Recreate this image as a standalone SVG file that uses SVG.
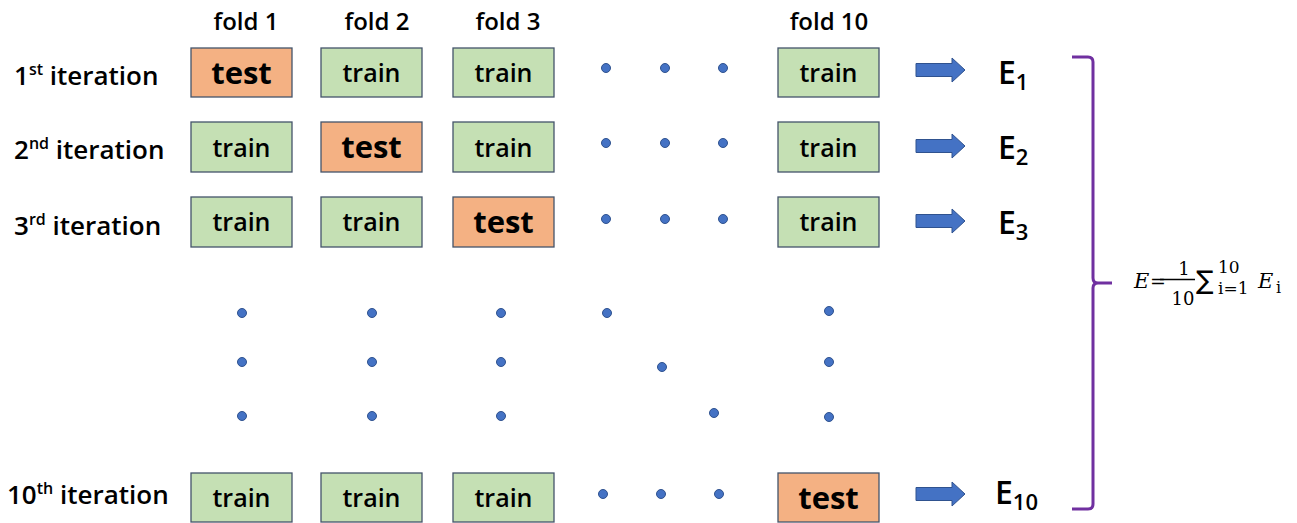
<svg xmlns="http://www.w3.org/2000/svg" width="1297" height="523" viewBox="0 0 1297 523">
<defs>
<style>
.lbl{font-family:"Open Sans","Liberation Sans",sans-serif;font-weight:600;fill:#000}
.fold{font-size:24px;text-anchor:middle}
.iter{font-size:26px}
.sup{font-size:16px}
.box-train rect{fill:#C5E0B4;stroke:#44546A;stroke-width:1.3}
.box-test rect{fill:#F4B183;stroke:#44546A;stroke-width:1.3}
.box-train text{font-family:"Open Sans","Liberation Sans",sans-serif;font-weight:600;font-size:25px;text-anchor:middle;fill:#000}
.box-test text{font-family:"Open Sans","Liberation Sans",sans-serif;font-weight:700;font-size:31px;text-anchor:middle;fill:#000}
.dot{fill:#4472C4;stroke:#2F528F;stroke-width:1}
.arrow{fill:#4472C4;stroke:#2F528F;stroke-width:1}
.e{font-family:"Open Sans","Liberation Sans",sans-serif;font-weight:600;font-size:32px;fill:#000}
.esub{font-size:22px}
.math{font-family:"DejaVu Serif","Liberation Serif",serif;fill:#000}
</style>
<g id="arrowShape"><path class="arrow" d="M0,-6.5 H36 V-12 L49,0 L36,12 V6.5 H0 Z"/></g>
</defs>

<!-- fold headers -->
<g id="headers">
<text class="lbl fold" x="246" y="30">fold 1</text>
<text class="lbl fold" x="377" y="30">fold 2</text>
<text class="lbl fold" x="508" y="30">fold 3</text>
<text class="lbl fold" x="829" y="30">fold 10</text>
</g>

<!-- iteration labels -->
<g id="iterations">
<text class="lbl iter" x="14" y="85">1<tspan class="sup" dy="-10">st</tspan><tspan dy="10"> iteration</tspan></text>
<text class="lbl iter" x="14" y="159">2<tspan class="sup" dy="-10">nd</tspan><tspan dy="10"> iteration</tspan></text>
<text class="lbl iter" x="14" y="235">3<tspan class="sup" dy="-10">rd</tspan><tspan dy="10"> iteration</tspan></text>
<text class="lbl iter" x="7" y="504">10<tspan class="sup" dy="-10">th</tspan><tspan dy="10"> iteration</tspan></text>
</g>

<!-- row 1 -->
<g id="r1c1" class="box-test"><rect x="191" y="48" width="101" height="49"/><text x="241.5" y="84">test</text></g>
<g id="r1c2" class="box-train"><rect x="321" y="48" width="101" height="49"/><text x="371.5" y="82">train</text></g>
<g id="r1c3" class="box-train"><rect x="453" y="48" width="101" height="49"/><text x="503.5" y="82">train</text></g>
<g id="r1c10" class="box-train"><rect x="778" y="48" width="101" height="49"/><text x="828.5" y="82">train</text></g>

<!-- row 2 -->
<g id="r2c1" class="box-train"><rect x="191" y="122" width="101" height="50"/><text x="241.5" y="157">train</text></g>
<g id="r2c2" class="box-test"><rect x="321" y="122" width="101" height="50"/><text x="371.5" y="158">test</text></g>
<g id="r2c3" class="box-train"><rect x="453" y="122" width="101" height="50"/><text x="503.5" y="157">train</text></g>
<g id="r2c10" class="box-train"><rect x="778" y="122" width="101" height="50"/><text x="828.5" y="157">train</text></g>

<!-- row 3 -->
<g id="r3c1" class="box-train"><rect x="191" y="197" width="101" height="50"/><text x="241.5" y="231">train</text></g>
<g id="r3c2" class="box-train"><rect x="321" y="197" width="101" height="50"/><text x="371.5" y="231">train</text></g>
<g id="r3c3" class="box-test"><rect x="453" y="197" width="101" height="50"/><text x="503.5" y="233">test</text></g>
<g id="r3c10" class="box-train"><rect x="778" y="197" width="101" height="50"/><text x="828.5" y="231">train</text></g>

<!-- row 10 -->
<g id="r10c1" class="box-train"><rect x="191" y="473" width="101" height="49"/><text x="241.5" y="507">train</text></g>
<g id="r10c2" class="box-train"><rect x="321" y="473" width="101" height="49"/><text x="371.5" y="507">train</text></g>
<g id="r10c3" class="box-train"><rect x="453" y="473" width="101" height="49"/><text x="503.5" y="507">train</text></g>
<g id="r10c10" class="box-test"><rect x="778" y="473" width="101" height="49"/><text x="828.5" y="509">test</text></g>

<!-- dots -->
<g id="dots">
<circle class="dot" cx="606" cy="68" r="4.5"/><circle class="dot" cx="665" cy="68" r="4.5"/><circle class="dot" cx="723" cy="68" r="4.5"/>
<circle class="dot" cx="606" cy="143" r="4.5"/><circle class="dot" cx="665" cy="143" r="4.5"/><circle class="dot" cx="723" cy="143" r="4.5"/>
<circle class="dot" cx="606" cy="219" r="4.5"/><circle class="dot" cx="665" cy="219" r="4.5"/><circle class="dot" cx="723" cy="219" r="4.5"/>
<circle class="dot" cx="603" cy="494" r="4.5"/><circle class="dot" cx="661" cy="494" r="4.5"/><circle class="dot" cx="719" cy="494" r="4.5"/>
<circle class="dot" cx="242" cy="313" r="4.5"/><circle class="dot" cx="242" cy="362" r="4.5"/><circle class="dot" cx="242" cy="416" r="4.5"/>
<circle class="dot" cx="372" cy="313" r="4.5"/><circle class="dot" cx="372" cy="362" r="4.5"/><circle class="dot" cx="372" cy="416" r="4.5"/>
<circle class="dot" cx="501" cy="313" r="4.5"/><circle class="dot" cx="501" cy="362" r="4.5"/><circle class="dot" cx="501" cy="416" r="4.5"/>
<circle class="dot" cx="607" cy="313" r="4.5"/><circle class="dot" cx="662" cy="367" r="4.5"/><circle class="dot" cx="714" cy="413" r="4.5"/>
<circle class="dot" cx="829" cy="311" r="4.5"/><circle class="dot" cx="829" cy="362" r="4.5"/><circle class="dot" cx="829" cy="417" r="4.5"/>
</g>

<!-- connectors: arrows -->
<g id="connectors">
<use href="#arrowShape" x="916" y="70"/>
<use href="#arrowShape" x="916" y="146"/>
<use href="#arrowShape" x="916" y="221"/>
<use href="#arrowShape" x="916" y="494"/>
</g>

<!-- error labels -->
<g id="errors">
<text class="e" x="998" y="84">E<tspan class="esub" dy="6">1</tspan></text>
<text class="e" x="998" y="159">E<tspan class="esub" dy="6">2</tspan></text>
<text class="e" x="998" y="234">E<tspan class="esub" dy="6">3</tspan></text>
<text class="e" x="995" y="504">E<tspan class="esub" dy="6">10</tspan></text>
</g>

<!-- brace -->
<g id="brace">
<path d="M1072,57 H1088 Q1093,57 1093,62 V278 Q1093,283 1098,283 H1112 M1098,283 Q1093,283 1093,288 V504 Q1093,509 1088,509 H1072" fill="none" stroke="#7030A0" stroke-width="3"/>
</g>

<!-- formula -->
<g id="formula" class="math">
<text x="1134" y="288" font-size="21" font-style="italic">E</text>
<text x="1150" y="288" font-size="19">=</text>
<line x1="1160" y1="279.5" x2="1195" y2="279.5" stroke="#000" stroke-width="1.6"/>
<text x="1184" y="275" font-size="18" text-anchor="middle">1</text>
<text x="1183" y="305" font-size="18" text-anchor="middle">10</text>
<text x="1196" y="289" font-size="26" font-family="DejaVu Sans, sans-serif">∑</text>
<text x="1218" y="273" font-size="17">10</text>
<text x="1218" y="294" font-size="17">i=1</text>
<text x="1258" y="288" font-size="21" font-style="italic">E</text>
<text x="1276" y="293" font-size="16">i</text>
</g>
</svg>
